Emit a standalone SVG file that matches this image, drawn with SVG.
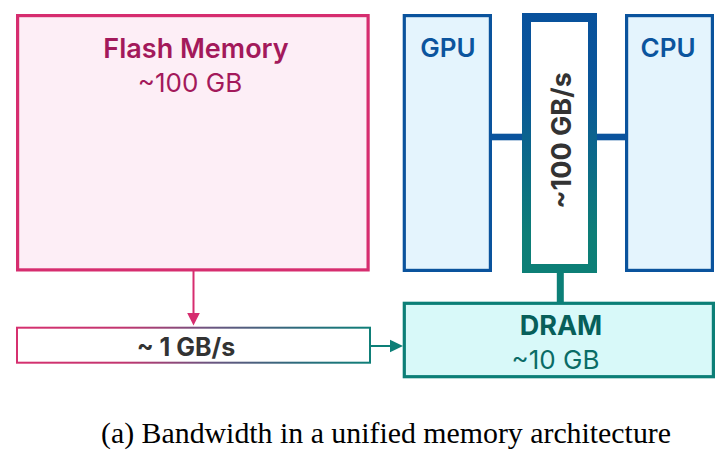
<svg xmlns="http://www.w3.org/2000/svg" width="724" height="454" viewBox="0 0 724 454">
  <defs>
    <linearGradient id="busGrad" gradientUnits="userSpaceOnUse" x1="0" y1="13" x2="0" y2="273">
      <stop offset="0" stop-color="#08519c"/>
      <stop offset="0.3" stop-color="#0a5699"/>
      <stop offset="0.85" stop-color="#0d7e77"/>
      <stop offset="1" stop-color="#0d7f76"/>
    </linearGradient>
    <linearGradient id="linkGrad" gradientUnits="userSpaceOnUse" x1="16" y1="0" x2="371" y2="0">
      <stop offset="0" stop-color="#d6306f"/>
      <stop offset="0.3" stop-color="#c2356f"/>
      <stop offset="0.55" stop-color="#6a5580"/>
      <stop offset="0.8" stop-color="#2b6b7c"/>
      <stop offset="1" stop-color="#0f7f78"/>
    </linearGradient>
  </defs>
  <style>
    text { font-family: Inter, "Noto Sans", "Liberation Sans", sans-serif; text-anchor: middle; }
    .flash { fill: #fdeef6; stroke: #d62d6f; stroke-width: 3.2; }
    .chip { fill: #e4f4fd; stroke: #0a539d; stroke-width: 3.2; }
    .dram { fill: #d8f9f9; stroke: #0c7f77; stroke-width: 3.2; }
    .pinkT { fill: #a3195b; }
    .blueT { fill: #0b549e; font-weight: 600; font-size: 26px; }
    .tealT { fill: #075f5a; }
    .bw { fill: #333333; font-weight: 700; }
    .cap { font-family: "Liberation Serif", "Times New Roman", serif; fill: #000; font-size: 29.5px; }
  </style>

  <g id="connectors">
    <rect x="492" y="133.7" width="31" height="6.6" fill="#0a539d"/>
    <rect x="596" y="133.7" width="30" height="6.6" fill="#0a539d"/>
    <rect x="556.8" y="272" width="7" height="31" fill="#0c7f77"/>
    <line x1="193.5" y1="271" x2="193.5" y2="314" stroke="#d62d6f" stroke-width="2"/>
    <polygon points="187.2,313 199.8,313 193.5,325.5" fill="#d62d6f"/>
    <line x1="370" y1="346" x2="391" y2="346" stroke="#0c7f77" stroke-width="2"/>
    <polygon points="390,339.8 390,352.2 403,346" fill="#0c7f77"/>
  </g>

  <g id="flash">
    <rect class="flash" x="17.6" y="15.6" width="350.5" height="254.3"/>
    <text class="pinkT" x="196" y="58" font-size="27" font-weight="600">Flash Memory</text>
    <text class="pinkT" x="190" y="92" font-size="26">~100 GB</text>
  </g>

  <g id="gpu">
    <rect class="chip" x="404.3" y="15.6" width="86.1" height="254.8"/>
    <text class="blueT" x="448" y="57">GPU</text>
  </g>

  <g id="cpu">
    <rect class="chip" x="626.6" y="15.6" width="85.8" height="254.8"/>
    <text class="blueT" x="668" y="57">CPU</text>
  </g>

  <g id="bus">
    <rect x="526.5" y="17.5" width="66" height="251" fill="#ffffff" stroke="url(#busGrad)" stroke-width="9"/>
    <text class="bw" transform="translate(570.5,140.5) rotate(-90)" x="0" y="0" font-size="27">~100 GB/s</text>
  </g>

  <g id="link">
    <rect x="17" y="327.7" width="353" height="35" fill="#ffffff" stroke="url(#linkGrad)" stroke-width="2"/>
    <text class="bw" x="186" y="356" font-size="25">~ 1 GB/s</text>
  </g>

  <g id="dram">
    <rect class="dram" x="404.3" y="303.3" width="309.1" height="73.4"/>
    <text class="tealT" x="561" y="335" font-size="27" font-weight="700">DRAM</text>
    <text class="tealT" x="555.5" y="369" font-size="26" style="fill:#0a6c66">~10 GB</text>
  </g>

  <g id="caption">
    <text class="cap" x="386" y="443" textLength="570" lengthAdjust="spacingAndGlyphs">(a) Bandwidth in a unified memory architecture</text>
  </g>
</svg>
